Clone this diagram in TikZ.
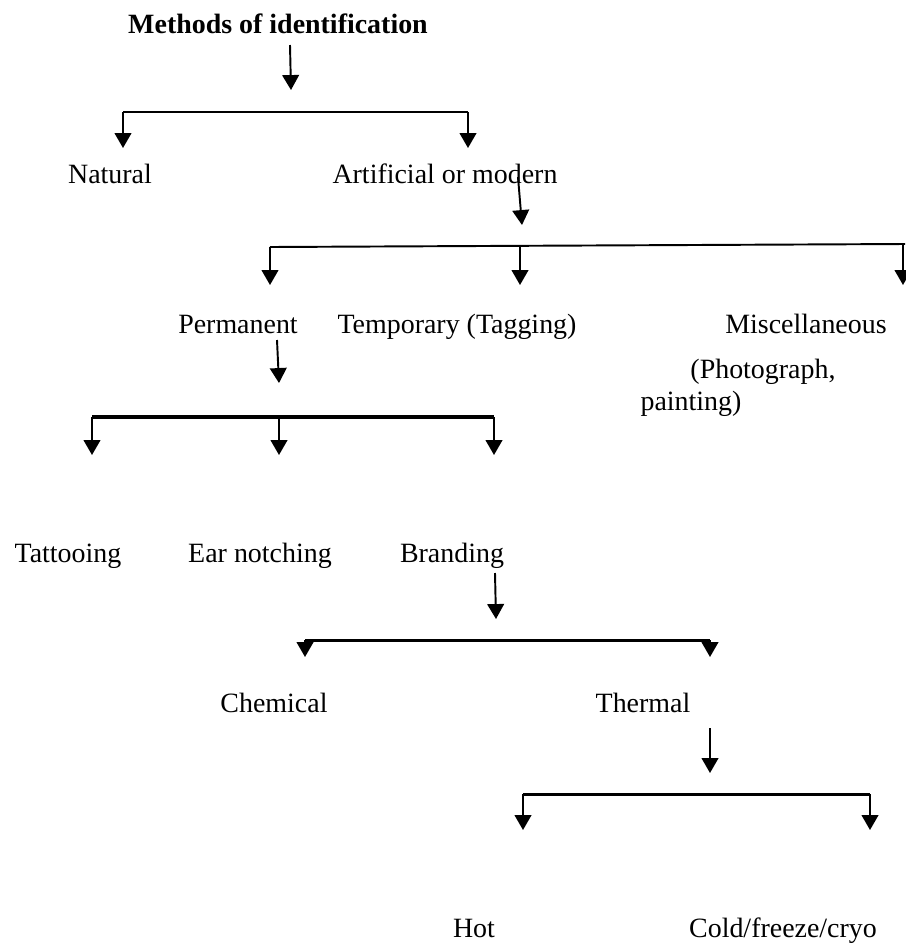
\documentclass[tikz,border=0pt]{standalone}
\usepackage{fontspec}
\setmainfont{Liberation Serif}
\usetikzlibrary{arrows.meta}

\begin{document}
\begin{tikzpicture}[x=0.02cm,y=-0.02cm,>={Triangle[width=9.5pt,length=8.5pt]},
  lbl/.style={anchor=base,inner sep=0pt,font=\fontsize{15.9}{19}\selectfont},
  head/.style={lbl,font=\fontsize{15.9}{19}\selectfont\bfseries},
  arr/.style={->,line width=1.1pt}, bar/.style={line width=1.1pt},
  thick bar/.style={line width=2.2pt}, mid bar/.style={line width=1.7pt}]
\useasboundingbox (0,0) rectangle (906,944);
% labels
\node[head] (title) at (278,33) {Methods of identification};
\node[lbl] (nat) at (110,183) {Natural};
\node[lbl] (art) at (445,183) {Artificial or modern};
\node[lbl] (perm) at (238,333) {Permanent};
\node[lbl] (temp) at (457,333) {Temporary (Tagging)};
\node[lbl] (misc) at (806,333) {Miscellaneous};
\node[lbl] (photo) at (763,378) {(Photograph,};
\node[lbl] (paint) at (691,410) {painting)};
\node[lbl] (tat) at (68,562) {Tattooing};
\node[lbl] (ear) at (260,562) {Ear notching};
\node[lbl] (brand) at (452,562) {Branding};
\node[lbl] (chem) at (274,712) {Chemical};
\node[lbl] (therm) at (643,712) {Thermal};
\node[lbl] (hot) at (474,937) {Hot};
\node[lbl] (cold) at (783,937) {Cold/freeze/cryo};
% connector points
\coordinate (s0) at (290,45);  \coordinate (e0) at (291,90);
\coordinate (b0l) at (123,112); \coordinate (b0r) at (468,112);
\coordinate (s1) at (518,177); \coordinate (e1) at (522,225);
\coordinate (b1l) at (270,247); \coordinate (b1m) at (520,246); \coordinate (b1r) at (905,244);
\coordinate (s2) at (277,340); \coordinate (e2) at (279,383);
\coordinate (b2l) at (92,417); \coordinate (b2m) at (279,417); \coordinate (b2r) at (494,417);
\coordinate (s3) at (495,573); \coordinate (e3) at (496,619);
\coordinate (b3l) at (305,640); \coordinate (b3r) at (710,640);
\coordinate (s4) at (710,728); \coordinate (e4) at (710,773);
\coordinate (b4l) at (523,794); \coordinate (b4r) at (870,794);
% level 1
\draw[arr] (s0) -- (e0);
\draw[bar] (b0l) -- (b0r);
\draw[arr] (b0l) -- (123,148); \draw[arr] (b0r) -- (468,148);
% level 2
\draw[arr] (s1) -- (e1);
\draw[bar] (b1l) -- (b1r);
\draw[arr] (b1l) -- (270,285); \draw[arr] (b1m) -- (520,285);
\draw[arr] ([xshift=-0.04cm]b1r) -- (903,285);
% level 3
\draw[arr] (s2) -- (e2);
\draw[thick bar] (b2l) -- (b2r);
\draw[arr] (b2l) -- (92,455); \draw[arr] (b2m) -- (279,455);
\draw[arr] (b2r) -- (494,455);
% level 4
\draw[arr] (s3) -- (e3);
\draw[mid bar] (b3l) -- (b3r);
\draw[arr] (b3l) -- (305,657); \draw[arr] (b3r) -- (710,657);
% level 5
\draw[arr] (s4) -- (e4);
\draw[mid bar] (b4l) -- (b4r);
\draw[arr] (b4l) -- (523,830); \draw[arr] (b4r) -- (870,830);
\end{tikzpicture}
\end{document}
